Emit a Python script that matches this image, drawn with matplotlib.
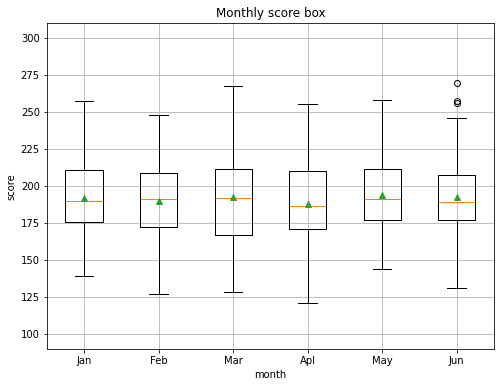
import numpy as np
import matplotlib.pyplot as plt

# summary values
months = ["Jan", "Feb", "Mar", "Apl", "May", "Jun"]
whis_lo = [139.2, 127.0, 128.6, 120.9, 143.9, 131.1]
q1 = [175.7, 172.5, 167.1, 170.9, 177.0, 177.0]
medians = [189.9, 191.2, 191.9, 186.5, 191.2, 189.2]
means = [191.9, 190.3, 192.6, 188.1, 193.7, 193.0]
q3 = [210.8, 208.8, 211.5, 210.1, 211.5, 207.4]
whis_hi = [257.4, 248.0, 267.6, 255.4, 258.1, 245.9]
outliers = [[], [], [], [], [], [269.6, 257.4, 255.8]]

stats = []
for i, m in enumerate(months):
    stats.append({
        "label": m,
        "whislo": whis_lo[i],
        "q1": q1[i],
        "med": medians[i],
        "mean": means[i],
        "q3": q3[i],
        "whishi": whis_hi[i],
        "fliers": np.array(outliers[i]),
    })

fig, ax = plt.subplots(figsize=(7, 5.375), dpi=72)
ax.bxp(stats, showmeans=True)
ax.set_ylim(90, 310)
ax.set_title("Monthly score box")
ax.set_xlabel("month")
ax.set_ylabel("score")
ax.grid(True)
plt.subplots_adjust(left=0.093, right=0.980, top=0.940, bottom=0.098)
plt.savefig("out.png")
